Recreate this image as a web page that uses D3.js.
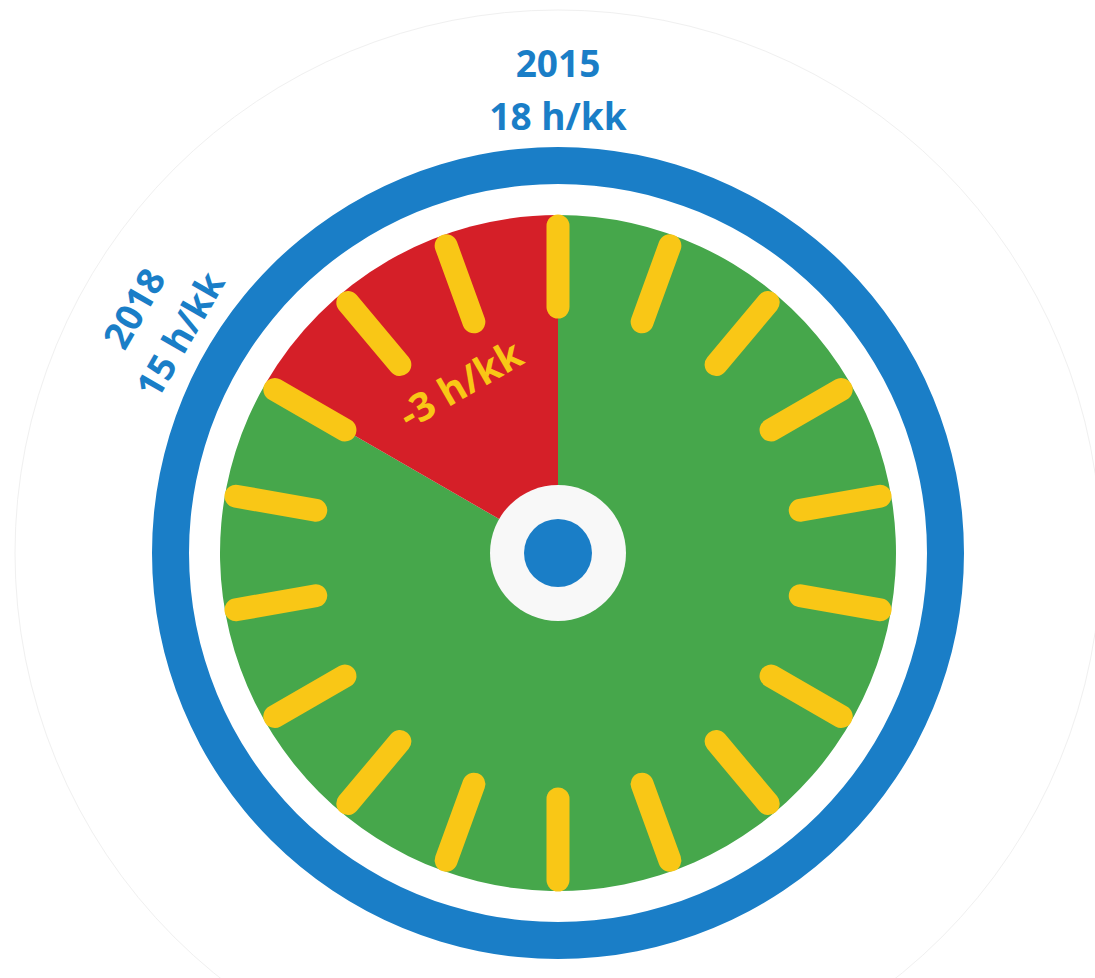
<!DOCTYPE html>
<html>
<head>
<meta charset="utf-8">
<script src="https://cdn.jsdelivr.net/npm/d3@7"></script>
<style>
  html, body { margin: 0; padding: 0; background: #fff; }
  text { font-family: "Open Sans", "DejaVu Sans", sans-serif; font-weight: 700; }
</style>
</head>
<body>
<div id="container"></div>
<script>
const w = 1095;
const h = 978;
const cx = 558;
const cy = 553;

// data
const years = ["2015", "2018"];
const hours = [18, 15];
const hourTicks = [0, 1, 2, 3, 4, 5, 6, 7, 8, 9, 10, 11, 12, 13, 14, 15, 16, 17];
const segmentValues = [15, 3]; // remaining hours, lost hours
const segmentColors = ["#46a74b", "#d51f28"];
const diffLabel = "-3 h/kk";

const blue = "#1a7ec7";
const yellow = "#f9c716";

const svg = d3
  .select("#container")
  .append("svg")
  .attr("width", w)
  .attr("height", h);

const g = svg.append("g").attr("transform", `translate(${cx}, ${cy})`);

// hours -> degrees (clockwise from 12 o'clock)
const angle = d3.scaleLinear().domain([0, hours[0]]).range([0, 360]);

// faint outer circle
g.append("circle")
  .attr("r", 543)
  .attr("fill", "none")
  .attr("stroke", "#f0f0f0")
  .attr("stroke-width", 1);

// blue ring
g.append("path")
  .attr("d", d3.arc().innerRadius(369).outerRadius(406).startAngle(0).endAngle(2 * Math.PI)())
  .attr("fill", blue);

// dial face
const pie = d3.pie().sort(null).value(d => d);
const arc = d3.arc().innerRadius(0).outerRadius(338);
g.selectAll("path.seg")
  .data(pie(segmentValues))
  .enter()
  .append("path")
  .attr("class", "seg")
  .attr("d", arc)
  .attr("fill", (d, i) => segmentColors[i]);

// hour ticks
g.selectAll("line.tick")
  .data(hourTicks)
  .enter()
  .append("line")
  .attr("class", "tick")
  .attr("transform", d => `rotate(${angle(d)})`)
  .attr("x1", 0)
  .attr("x2", 0)
  .attr("y1", -246)
  .attr("y2", -327)
  .attr("stroke", yellow)
  .attr("stroke-width", 23)
  .attr("stroke-linecap", "round");

// hub
g.append("circle").attr("r", 68).attr("fill", "#f8f8f8");
g.append("circle").attr("r", 34).attr("fill", blue);

// year labels around the ring
const labels = g
  .selectAll("g.label")
  .data(years)
  .enter()
  .append("g")
  .attr("class", "label")
  .attr("transform", (d, i) => `rotate(${angle(hours[i]) % 360})`);

labels
  .append("text")
  .attr("y", -476)
  .attr("text-anchor", "middle")
  .attr("fill", blue)
  .style("font-size", "37px")
  .text(d => d);

labels
  .append("text")
  .attr("y", -423)
  .attr("text-anchor", "middle")
  .attr("fill", blue)
  .style("font-size", "37px")
  .text((d, i) => `${hours[i]} h/kk`);

// difference label in the middle of the red wedge
const midDiff = (angle(hours[1]) + angle(hours[0])) / 2 - 360;
g.append("text")
  .attr("transform", `rotate(${midDiff})`)
  .attr("y", -181)
  .attr("text-anchor", "middle")
  .attr("fill", yellow)
  .style("font-size", "39px")
  .text(diffLabel);
</script>
</body>
</html>
